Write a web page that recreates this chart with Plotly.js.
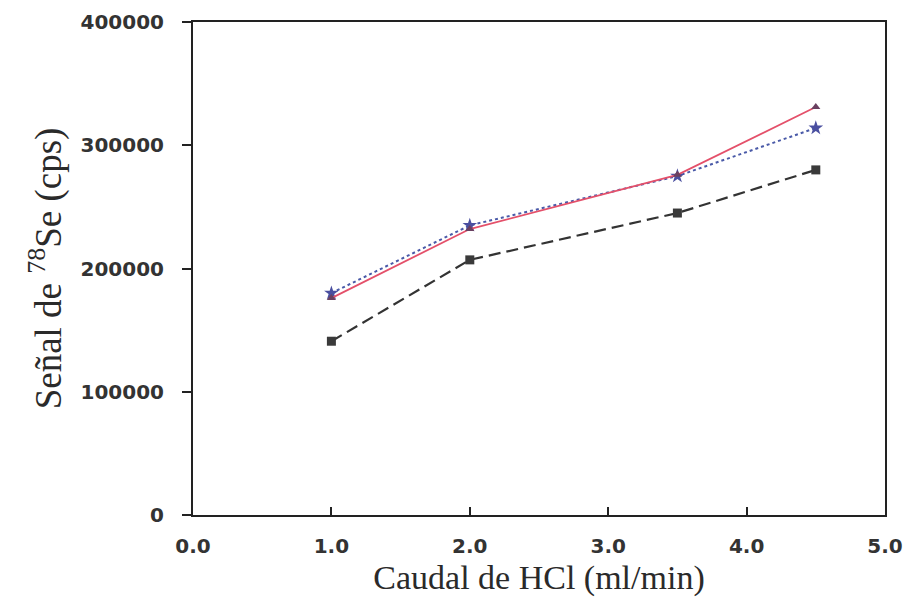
<!DOCTYPE html>
<html>
<head>
<meta charset="utf-8">
<script src="https://cdn.plot.ly/plotly-3.0.1.min.js"></script>
<style>html,body{margin:0;padding:0;background:#fff;}</style>
</head>
<body>
<div id="chart" style="width:906px;height:601px;"></div>
<script>
var caudal = [1.0, 2.0, 3.5, 4.5];
var serieTriangulo = [176000, 232000, 276000, 331000];
var serieEstrella = [180000, 235000, 275000, 314000];
var serieCuadrado = [141000, 207000, 245000, 280000];
var xTicks = [0, 1, 2, 3, 4, 5];
var xTickText = ["0.0", "1.0", "2.0", "3.0", "4.0", "5.0"];
var yTicks = [0, 100000, 200000, 300000, 400000];
var yTickText = ["0", "100000", "200000", "300000", "400000"];

var traces = [
  {x: caudal, y: serieCuadrado, mode: 'lines+markers', type: 'scatter',
   line: {color: '#333333', width: 2.2, dash: '12px,6px'},
   marker: {symbol: 'square', size: 9, color: '#3a3a3a'}},
  {x: caudal, y: serieEstrella, mode: 'lines+markers', type: 'scatter',
   line: {color: '#4a5aa8', width: 2, dash: 'dot'},
   marker: {symbol: 'star', size: 11, color: '#4a4fa0'}},
  {x: caudal, y: serieTriangulo, mode: 'lines+markers', type: 'scatter',
   line: {color: '#e4506a', width: 1.8},
   marker: {symbol: 'triangle-up', size: 8, color: '#6a4060'}}
];

var tickFont = {family: '"DejaVu Sans", sans-serif', size: 20, color: '#333', weight: 'bold'};
var titleFont = {family: '"Liberation Serif", "Times New Roman", serif', size: 34, color: '#2a2a2a'};
var layout = {
  width: 906, height: 601,
  margin: {l: 193, r: 21, t: 22, b: 86},
  paper_bgcolor: '#fff', plot_bgcolor: '#fff',
  showlegend: false,
  xaxis: {
    range: [0, 5], tickvals: xTicks, ticktext: xTickText,
    showgrid: false, zeroline: false, showline: true, mirror: true,
    linecolor: '#222', linewidth: 2, ticks: 'inside', ticklen: 8, tickwidth: 2, tickcolor: '#222',
    ticklabelstandoff: 12,
    tickfont: tickFont,
    title: {text: 'Caudal de HCl (ml/min)', font: titleFont, standoff: 8}
  },
  yaxis: {
    range: [0, 400000], tickvals: yTicks, ticktext: yTickText,
    showgrid: false, zeroline: false, showline: true, mirror: true,
    linecolor: '#222', linewidth: 2, ticks: 'outside', ticklen: 9, tickwidth: 2, tickcolor: '#222',
    ticklabelstandoff: 14,
    tickfont: tickFont,
    title: {text: 'Señal de <sup>78</sup>Se (cps)', font: {family: titleFont.family, size: 37, color: '#2a2a2a'}, standoff: 8}
  }
};
Plotly.newPlot('chart', traces, layout, {displayModeBar: false, staticPlot: true});
</script>
</body>
</html>
